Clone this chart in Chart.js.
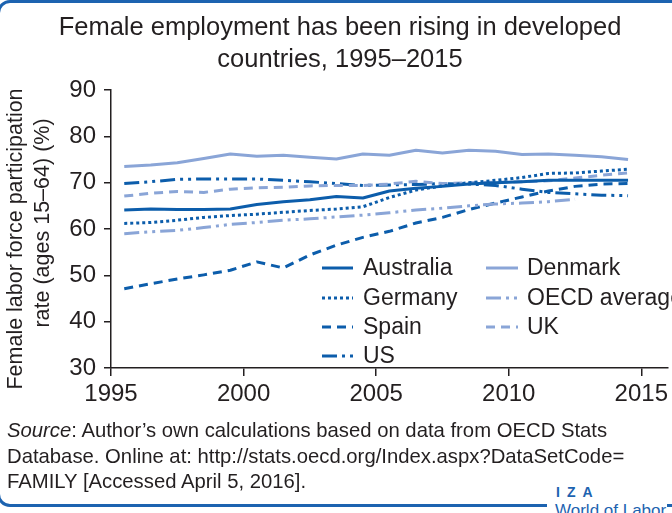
<!DOCTYPE html>
<html>
<head>
<meta charset="utf-8">
<script src="https://cdn.jsdelivr.net/npm/chart.js@4.4.1/dist/chart.umd.min.js"></script>
<style>
html,body{margin:0;padding:0;background:#fff;overflow:hidden;}
#wrap{position:relative;width:672px;height:513px;overflow:hidden;font-family:"Liberation Sans",Arial,sans-serif;background:#fff;}
#frame{position:absolute;left:-3px;top:0;width:740px;height:501px;border:3px solid #1d63b0;border-radius:13px;}
#c{position:absolute;left:0;top:0;}
#source{position:absolute;left:7px;top:418px;font-size:20.3px;line-height:25.5px;color:#231f20;white-space:nowrap;}
#logo{position:absolute;left:547px;top:481px;width:120px;height:40px;background:#fff;color:#1d63b0;}
#logo .iza{position:absolute;left:9px;top:3px;font-size:14px;font-weight:bold;letter-spacing:7px;line-height:16px;}
#logo .wol{position:absolute;left:8px;top:20px;font-size:17px;line-height:20px;white-space:nowrap;}
</style>
</head>
<body>
<div id="wrap">
  <div id="frame"></div>
  <canvas id="c" width="672" height="513"></canvas>
  <div id="source"><i>Source</i>: Author’s own calculations based on data from OECD Stats<br>Database. Online at: http://stats.oecd.org/Index.aspx?DataSetCode=<br>FAMILY [Accessed April 5, 2016].</div>
  <div id="logo"><div class="iza">IZA</div><div class="wol">World of Labor</div></div>
</div>
<script>
// ---- data (female labor force participation rate, ages 15–64, %) ----
const years = [1995,1996,1997,1998,1999,2000,2001,2002,2003,2004,2005,2006,2007,2008,2009,2010,2011,2012,2013,2014];
const australia = [64.1,64.3,64.2,64.2,64.3,65.3,65.9,66.3,67.0,66.7,68.2,68.8,69.2,69.7,70.0,70.2,70.5,70.5,70.5,70.5];
const denmark   = [73.5,73.8,74.3,75.2,76.2,75.7,75.9,75.5,75.1,76.2,75.9,77.0,76.4,77.0,76.8,76.1,76.2,75.9,75.6,75.0];
const germany   = [61.2,61.4,61.9,62.5,62.9,63.2,63.6,64.0,64.3,64.8,66.8,68.4,69.3,70.0,70.5,71.1,72.0,72.1,72.5,72.9];
const oecd      = [59.0,59.4,59.7,60.3,61.0,61.4,61.9,62.2,62.6,63.0,63.5,64.1,64.5,65.0,65.4,65.6,65.9,66.4];
const spain     = [47.1,48.2,49.2,50.1,51.1,52.9,51.6,54.4,56.5,58.2,59.5,61.3,62.5,64.2,65.6,66.9,68.2,69.2,69.7,69.8];
const uk        = [67.1,67.7,68.1,67.9,68.6,68.9,69.0,69.3,69.4,69.4,69.7,70.3,69.8,70.0,70.1,70.2,70.4,71.0,71.6,72.1];
const us        = [69.8,70.2,70.7,70.8,70.8,70.8,70.5,70.2,69.8,69.4,69.5,69.6,69.8,69.7,69.4,68.6,67.9,67.6,67.3,67.2];
const xTicks = [1995,2000,2005,2010,2015];
const yTicks = [30,40,50,60,70,80,90];
const titleLines = ['Female employment has been rising in developed','countries, 1995–2015'];
const yTitleLines = ['Female labor force participation','rate (ages 15–64) (%)'];
const legendCol1 = ['Australia','Germany','Spain','US'];
const legendCol2 = ['Denmark','OECD average','UK'];

// ---- styling ----
const DARK = '#0c5dab', LIGHT = '#8aa5d7', INK = '#231f20';
const FONT = '"Liberation Sans", Arial, sans-serif';
Chart.defaults.font.family = FONT;
Chart.defaults.color = INK;

// annual values are plotted at mid-year
const pts = arr => arr.map((v,i) => ({x: years[i] + 0.5, y: v}));
const mk = (label, arr, color, dash) => ({
  label, data: pts(arr), borderColor: color, backgroundColor: color,
  borderDash: dash, borderWidth: 3, pointRadius: 0, tension: 0, fill: false,
  borderCapStyle: 'butt', borderJoinStyle: 'round'
});
const DOT = [3,3], DASH = [9,6], DASHDOTDOT = [15,5,3,5,3,5];
const datasets = [
  mk('Australia', australia, DARK, []),
  mk('Denmark', denmark, LIGHT, []),
  mk('Germany', germany, DARK, DOT),
  mk('OECD average', oecd, LIGHT, DASHDOTDOT),
  mk('Spain', spain, DARK, DASH),
  mk('UK', uk, LIGHT, DASH),
  mk('US', us, DARK, DASHDOTDOT)
];

const legendPlugin = {
  id: 'customLegend',
  afterDraw(chart) {
    const ctx = chart.ctx;
    const cols = [{sx: 322, len: 31, tx: 363, items: legendCol1}, {sx: 486, len: 32, tx: 527, items: legendCol2}];
    const rowY = [268, 298, 327, 356];
    ctx.save();
    ctx.font = '23px ' + FONT;
    ctx.textBaseline = 'middle';
    ctx.fillStyle = INK;
    cols.forEach(col => {
      col.items.forEach((name, r) => {
        const ds = chart.data.datasets.find(d => d.label === name);
        const y = rowY[r];
        ctx.save();
        ctx.strokeStyle = ds.borderColor;
        ctx.lineWidth = ds.borderWidth;
        ctx.setLineDash(ds.borderDash);
        ctx.lineCap = 'butt';
        ctx.beginPath();
        ctx.moveTo(col.sx, y);
        ctx.lineTo(col.sx + col.len, y);
        ctx.stroke();
        ctx.restore();
        ctx.fillText(name, col.tx, y + 1);
      });
    });
    ctx.restore();
  }
};

const yTitlePlugin = {
  id: 'yTitle',
  afterDraw(chart) {
    const ctx = chart.ctx;
    const pos = [{x: 16, y: 239}, {x: 43, y: 223}];
    ctx.save();
    ctx.font = '21.5px ' + FONT;
    ctx.fillStyle = INK;
    ctx.textAlign = 'center';
    ctx.textBaseline = 'middle';
    yTitleLines.forEach((t, i) => {
      ctx.save();
      ctx.translate(pos[i].x, pos[i].y);
      ctx.rotate(-Math.PI / 2);
      ctx.fillText(t, 0, 0);
      ctx.restore();
    });
    ctx.restore();
  }
};

new Chart(document.getElementById('c'), {
  type: 'line',
  data: { datasets },
  plugins: [legendPlugin, yTitlePlugin],
  options: {
    responsive: false,
    animation: false,
    devicePixelRatio: 1,
    layout: { padding: { left: 8, right: 0, top: 0, bottom: 105 } },
    plugins: {
      legend: { display: false },
      tooltip: { enabled: false },
      title: {
        display: true, text: titleLines, color: INK,
        font: { size: 25.5, weight: 'normal', lineHeight: '32px' },
        padding: { top: 12, bottom: 14 }
      }
    },
    scales: {
      x: {
        type: 'linear', min: 1995, max: 2016,
        afterBuildTicks: s => { s.ticks = xTicks.map(v => ({value: v})); },
        afterFit: s => { s.height = 40; },
        ticks: { color: INK, font: { size: 24 }, padding: 4, maxRotation: 0, autoSkip: false,
                 callback: v => String(v) },
        grid: { display: true, drawOnChartArea: false, drawTicks: true, tickLength: 8, color: INK, lineWidth: 1.5 },
        border: { display: true, color: INK, width: 1.5 }
      },
      y: {
        min: 30, max: 90,
        afterBuildTicks: s => { s.ticks = yTicks.map(v => ({value: v})); },
        afterFit: s => { s.width = 103; },
        ticks: { color: INK, font: { size: 24 }, padding: 8, callback: v => String(v) },
        grid: { display: true, drawOnChartArea: false, drawTicks: true, tickLength: 7, color: INK, lineWidth: 1.5 },
        border: { display: true, color: INK, width: 1.5 }
      }
    }
  }
});
</script>
</body>
</html>
